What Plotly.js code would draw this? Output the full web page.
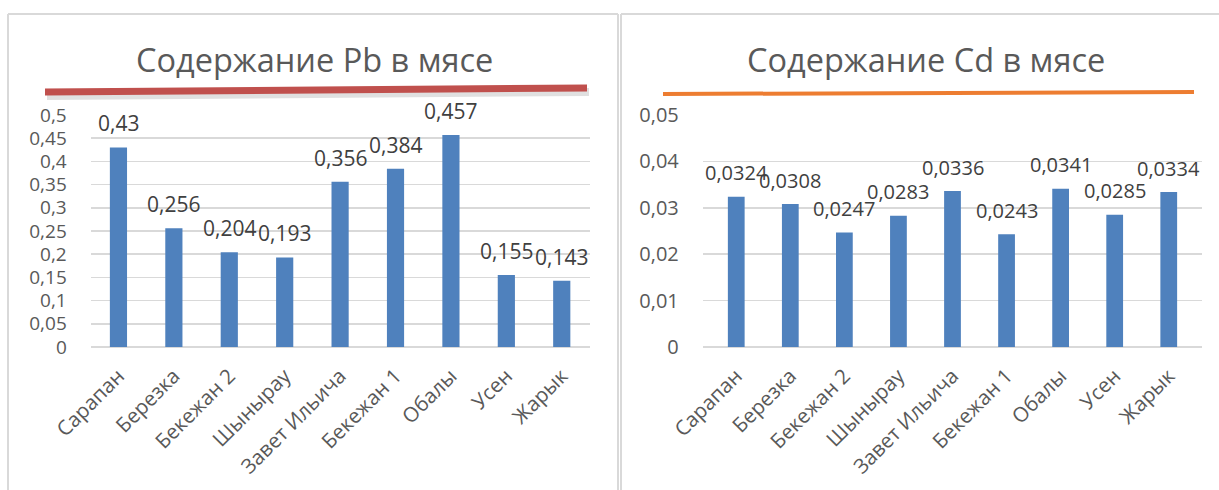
<!DOCTYPE html>
<html>
<head>
<meta charset="utf-8">
<script src="https://cdn.plot.ly/plotly-3.0.1.min.js"></script>
<style>
html,body{margin:0;padding:0;background:#fff;}
#chart{width:1219px;height:490px;}
</style>
</head>
<body>
<div id="chart"></div>
<script>
const categories = ['Сарапан','Березка','Бекежан 2','Шынырау','Завет Ильича','Бекежан 1','Обалы','Усен','Жарык'];
const pbValues = [0.43, 0.256, 0.204, 0.193, 0.356, 0.384, 0.457, 0.155, 0.143];
const cdValues = [0.0324, 0.0308, 0.0247, 0.0283, 0.0336, 0.0243, 0.0341, 0.0285, 0.0334];
const pbTitle = 'Содержание Pb в мясе';
const cdTitle = 'Содержание Cd в мясе';

const W = 1219, H = 490;
const px = x => x / W;
const py = y => 1 - y / H;

const FONT = 'Open Sans, Noto Sans, sans-serif';
const TICK = '#595959';
const LABEL = '#404040';
const BAR = '#4F81BD';
const GRID = '#d9d9d9';

const fmt = v => String(v).replace('.', ',');

const traces = [
  {type:'bar', x:categories, y:pbValues, xaxis:'x', yaxis:'y',
   marker:{color:BAR}, hoverinfo:'x+y'},
  {type:'bar', x:categories, y:cdValues, xaxis:'x2', yaxis:'y2',
   marker:{color:BAR}, hoverinfo:'x+y'}
];

const labelAnn = (vals, xr, yr, size) => vals.map((v, i) => ({
  x: categories[i], y: v, xref: xr, yref: yr, text: fmt(v),
  showarrow: false, yanchor: 'middle', yshift: 24,
  font: {family: FONT, size: size, color: LABEL}
}));

const axisX = dom => ({
  domain: dom, type:'category', tickangle:-45,
  tickfont:{family:FONT, size:20.5, color:TICK},
  showgrid:false, showline:false, zeroline:false, ticks:'', ticklabelstandoff:12,
  fixedrange:true
});
const axisY = (dom, rng, dt, fs) => ({
  domain: dom, range: rng, dtick: dt, tick0:0,
  tickfont:{family:FONT, size:fs, color:TICK},
  showgrid:true, gridcolor:GRID, gridwidth:1.5,
  zeroline:true, zerolinecolor:GRID, zerolinewidth:1.5,
  showline:false, ticks:'', ticklabelstandoff:23, fixedrange:true
});

const yDom = [py(347), py(115)];

const layout = {
  width: W, height: H,
  margin:{l:0, r:0, t:0, b:0},
  paper_bgcolor:'#fff', plot_bgcolor:'rgba(0,0,0,0)',
  separators:', ',
  showlegend:false,
  bargap:0.69,
  font:{family:FONT, color:TICK},
  xaxis: axisX([px(90.75), px(590.25)]),
  yaxis: axisY(yDom, [0, 0.5], 0.05, 19),
  xaxis2: Object.assign(axisX([px(702.75), px(1202.25)]), {anchor:'y2'}),
  yaxis2: Object.assign(axisY(yDom, [0, 0.05], 0.01, 20), {anchor:'x2'}),
  annotations: [
    {xref:'paper', yref:'paper', x:px(314), y:py(59), text:pbTitle, showarrow:false,
     xanchor:'center', yanchor:'middle', font:{family:FONT, size:32.5, color:TICK}},
    {xref:'paper', yref:'paper', x:px(926), y:py(59), text:cdTitle, showarrow:false,
     xanchor:'center', yanchor:'middle', font:{family:FONT, size:32.5, color:TICK}}
  ].concat(labelAnn(pbValues, 'x', 'y', 21)).concat(labelAnn(cdValues, 'x2', 'y2', 20)),
  shapes: [
    // panel frames
    {type:'line', xref:'paper', yref:'paper', x0:px(8), y0:py(14), x1:px(618), y1:py(14), line:{color:GRID, width:2}},
    {type:'line', xref:'paper', yref:'paper', x0:px(8), y0:py(14), x1:px(8), y1:py(495), line:{color:GRID, width:2}},
    {type:'line', xref:'paper', yref:'paper', x0:px(618), y0:py(14), x1:px(618), y1:py(495), line:{color:GRID, width:2}},
    {type:'line', xref:'paper', yref:'paper', x0:px(621), y0:py(14), x1:px(1225), y1:py(14), line:{color:GRID, width:2}},
    {type:'line', xref:'paper', yref:'paper', x0:px(621), y0:py(14), x1:px(621), y1:py(495), line:{color:GRID, width:2}},
    // red underline with shadow
    {type:'line', xref:'paper', yref:'paper', x0:px(47), y0:py(96), x1:px(589), y1:py(92), line:{color:'rgba(0,0,0,0.12)', width:8}},
    {type:'line', xref:'paper', yref:'paper', x0:px(45), y0:py(92), x1:px(587), y1:py(88), line:{color:'#C0504D', width:7}},
    // orange underline
    {type:'line', xref:'paper', yref:'paper', x0:px(663), y0:py(94), x1:px(1194), y1:py(92), line:{color:'#ED7D31', width:4}}
  ]
};

Plotly.newPlot('chart', traces, layout, {displayModeBar:false, staticPlot:true});
</script>
</body>
</html>
